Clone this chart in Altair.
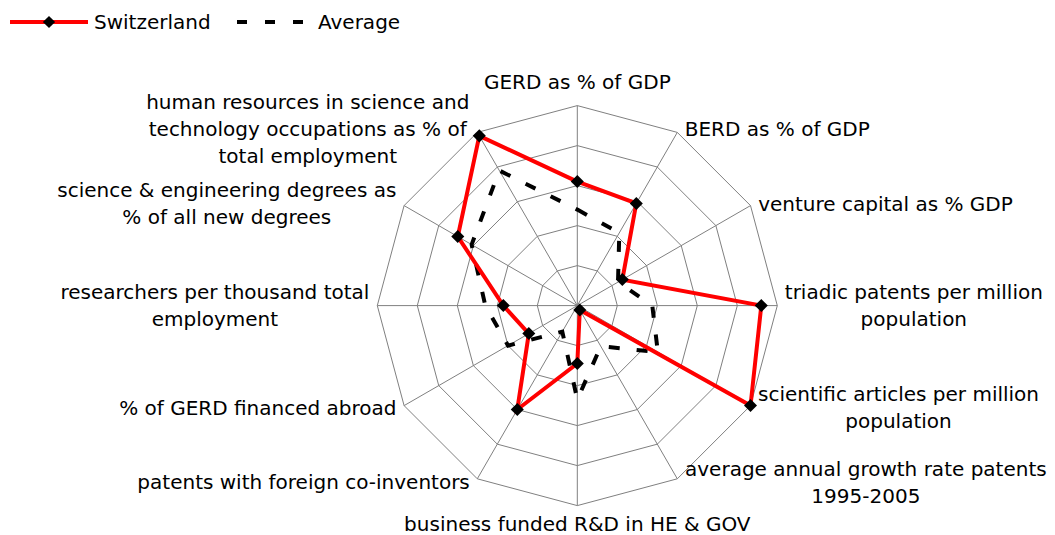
import math
import altair as alt
import pandas as pd

# ---------------- data ----------------
axis_labels = [
    ["GERD as % of GDP"],
    ["BERD as % of GDP"],
    ["venture capital as % GDP"],
    ["triadic patents per million", "population"],
    ["scientific articles per million", "population"],
    ["average annual growth rate patents", "1995-2005"],
    ["business funded R&D in HE & GOV"],
    ["patents with foreign co-inventors"],
    ["% of GERD financed abroad"],
    ["researchers per thousand total", "employment"],
    ["science & engineering degrees as", "% of all new degrees"],
    ["human resources in science and", "technology occupations as % of", "total employment"],
]
switzerland = [0.62, 0.59, 0.26, 0.92, 1.0, 0.025, 0.29, 0.60, 0.28, 0.37, 0.69, 0.98]
average = [0.48, 0.42, 0.235, 0.375, 0.465, 0.235, 0.47, 0.15, 0.40, 0.46, 0.61, 0.78]
ring_levels = [0.2, 0.4, 0.6, 0.8, 1.0]
series_names = ["Switzerland", "Average"]

# ---------------- layout ----------------
N = len(axis_labels)
PX = 200.0            # pixels per unit of radius
W, H = 1039, 527
CX, CY = 569.3, 297.6  # centre of the radar in plot pixels
xdom = [-CX / PX, (W - CX) / PX]
ydom = [(CY - H) / PX, CY / PX]
FS = 20
LH = 27

DV = {' ': 651, 'a': 1255, 'b': 1300, 'c': 1126, 'd': 1300, 'e': 1260, 'f': 721, 'g': 1300,
      'h': 1298, 'i': 569, 'j': 569, 'k': 1186, 'l': 569, 'm': 1995, 'n': 1298, 'o': 1253,
      'p': 1300, 'q': 1300, 'r': 842, 's': 1067, 't': 803, 'u': 1298, 'v': 1212, 'w': 1675,
      'x': 1212, 'y': 1212, 'z': 1071, 'A': 1401, 'B': 1405, 'C': 1430, 'D': 1577, 'E': 1294,
      'G': 1577, 'H': 1540, 'O': 1612, 'P': 1235, 'R': 1423, 'S': 1300, 'V': 1401,
      '%': 1946, '&': 1597, '-': 739, '.': 651}


def text_w(s):
    return sum(DV.get(ch, 1300) for ch in s) / 2048.0 * FS


# ---------------- tables ----------------
series_rows = []
for name, vals in zip(series_names, [switzerland, average]):
    for i in range(N + 1):
        series_rows.append({"series": name, "i": i % N, "o": i, "v": vals[i % N]})
series_df = pd.DataFrame(series_rows)

ring_rows = []
for lv in ring_levels:
    for i in range(N + 1):
        ring_rows.append({"level": lv, "i": i % N, "o": i})
ring_df = pd.DataFrame(ring_rows)

spoke_df = pd.DataFrame({"i": list(range(N))})

label_rows = []
for k, lines in enumerate(axis_labels):
    a = k * math.pi * 2 / N
    s, c = math.sin(a), math.cos(a)
    n = len(lines)
    bw = max(text_w(l) for l in lines)
    if abs(s) < 1e-9:
        lx = 0.0
        ly = c * (1 + (22.5 if c > 0 else 19) / PX)
    else:
        side = 1 if s > 0 else -1
        lx = s + side * (7.5 + bw / 2) / PX
        ly = c + (4 * c - 1) / PX
    for j, line in enumerate(lines):
        label_rows.append({"t": line, "x": lx, "y": ly - (j - (n - 1) / 2) * LH / PX})
label_df = pd.DataFrame(label_rows)

xs = alt.Scale(domain=xdom, nice=False, zero=False)
ys = alt.Scale(domain=ydom, nice=False, zero=False)
X = alt.X("x:Q", scale=xs, axis=None)
Y = alt.Y("y:Q", scale=ys, axis=None)

ang = "datum.i * 2 * PI / %d" % N

rings = alt.Chart(ring_df).transform_calculate(
    x="datum.level * sin(%s)" % ang, y="datum.level * cos(%s)" % ang
).mark_line(color="#808080", strokeWidth=1).encode(
    x=X, y=Y, detail="level:N", order="o:Q")

spokes = alt.Chart(spoke_df).transform_calculate(
    x="0", y="0", x2=f"sin({ang})", y2=f"cos({ang})"
).mark_rule(color="#808080", strokeWidth=1).encode(
    x=X, y=Y, x2="x2:Q", y2="y2:Q")

base = alt.Chart(series_df).transform_calculate(
    x=f"datum.v * sin({ang})", y=f"datum.v * cos({ang})")

avg_line = base.transform_filter(alt.datum.series == "Average").mark_line(
    color="black", strokeWidth=4, strokeDash=[11, 17]).encode(x=X, y=Y, order="o:Q")

sw_line = base.transform_filter(alt.datum.series == "Switzerland").mark_line(
    color="#FF0000", strokeWidth=4).encode(x=X, y=Y, order="o:Q")

sw_pts = base.transform_filter(
    (alt.datum.series == "Switzerland") & (alt.datum.o < N)
).mark_point(shape="diamond", filled=True, color="black", size=170, opacity=1).encode(x=X, y=Y)

labels = alt.Chart(label_df).mark_text(
    font="DejaVu Sans", fontSize=FS, color="black", align="center", baseline="middle"
).encode(x=X, y=Y, text="t:N")

# ---------------- legend ----------------
leg_df = pd.DataFrame({"series": series_names})
leg_sw_line = alt.Chart(leg_df).transform_filter(alt.datum.series == "Switzerland").mark_rule(
    color="#FF0000", strokeWidth=4).encode(x=alt.value(2), x2=alt.value(80), y=alt.value(14))
leg_sw_pt = alt.Chart(leg_df).transform_filter(alt.datum.series == "Switzerland").mark_point(
    shape="diamond", filled=True, color="black", size=150, opacity=1).encode(
    x=alt.value(41), y=alt.value(14))
leg_sw_txt = alt.Chart(leg_df).transform_filter(alt.datum.series == "Switzerland").mark_text(
    font="DejaVu Sans", fontSize=FS, align="left", baseline="middle", color="black").encode(
    x=alt.value(86), y=alt.value(15), text="series:N")
leg_av_line = alt.Chart(leg_df).transform_filter(alt.datum.series == "Average").mark_rule(
    color="black", strokeWidth=4, strokeDash=[10, 18]).encode(
    x=alt.value(229), x2=alt.value(300), y=alt.value(14))
leg_av_txt = alt.Chart(leg_df).transform_filter(alt.datum.series == "Average").mark_text(
    font="DejaVu Sans", fontSize=FS, align="left", baseline="middle", color="black").encode(
    x=alt.value(310), y=alt.value(15), text="series:N")

chart = alt.layer(
    rings, spokes, avg_line, sw_line, sw_pts, labels,
    leg_sw_line, leg_sw_pt, leg_sw_txt, leg_av_line, leg_av_txt
).properties(
    width=W, height=H, padding=0, autosize=alt.AutoSizeParams(type="none")
).configure_view(stroke=None)

chart.save("out.html", embed_options={"renderer": "svg", "actions": False})
